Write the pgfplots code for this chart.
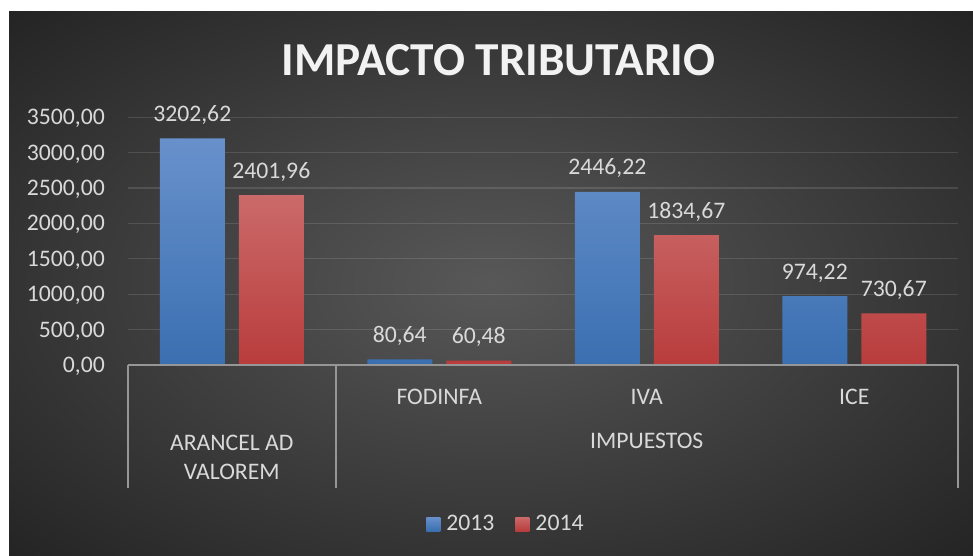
\documentclass[border=0pt]{standalone}
\usepackage{pgfplots}
\pgfplotsset{compat=1.18}
\usepackage{fontspec}
\setmainfont{Carlito}

\definecolor{bgin}{RGB}{88,88,88}
\definecolor{bgout}{RGB}{36,36,36}
\definecolor{lbl}{RGB}{217,217,217}
\definecolor{axgray}{RGB}{150,150,150}
\definecolor{bluetop}{RGB}{104,145,203}
\definecolor{bluebot}{RGB}{58,111,177}
\definecolor{redtop}{RGB}{203,106,106}
\definecolor{redbot}{RGB}{185,60,60}

% lighter centre, dark corners
\pgfdeclareradialshading{chartbg}{\pgfpoint{0bp}{0bp}}{color(0bp)=(bgin); color(35.4bp)=(bgout); color(50bp)=(bgout)}

\newcommand\lblfont{\fontsize{23.7}{28}\selectfont}
\newcommand\ttlfont{\fontsize{47.3}{54}\selectfont\bfseries}

\begin{document}
\begin{tikzpicture}[x=1pt,y=1pt]
\useasboundingbox (0,0) rectangle (973,556);
\fill[white] (0,0) rectangle (973,556);
\shade[shading=chartbg] (9,0) rectangle (973,544);

\node[font=\ttlfont, text=white!95!black] at (498.5,496) {IMPACTO TRIBUTARIO};

\begin{axis}[
    at={(128pt,191pt)}, anchor=south west,
    scale only axis,
    width=830pt, height=247.7pt,
    xmin=-0.5, xmax=3.5,
    ymin=0, ymax=3500,
    ytick={0,500,...,3500},
    xtick={1,2,3},
    xticklabels={FODINFA,IVA,ICE},
    scaled y ticks=false,
    /pgf/number format/fixed,
    /pgf/number format/fixed zerofill,
    /pgf/number format/precision=2,
    /pgf/number format/use comma,
    /pgf/number format/1000 sep={},
    /pgf/number format/assume math mode=true,
    axis line style={draw=none},
    major tick length=0pt,
    tick style={draw=none},
    ymajorgrids,
    major grid style={white, opacity=0.12, line width=1.3pt},
    yticklabel style={font=\lblfont, text=lbl, anchor=base east, inner sep=0pt, xshift=-23pt, yshift=-7.5pt},
    xticklabel style={font=\lblfont, text=lbl, anchor=base, inner sep=0pt, yshift=-39.5pt},
    every node near coord/.append style={font=\lblfont, text=lbl, anchor=base, inner sep=0pt, yshift=17pt},
    nodes near coords={\pgfmathprintnumber{\pgfplotspointmeta}},
    clip=false,
    legend style={at={(axis description cs:0.4554,-0.642)}, anchor=center,
        draw=none, fill=none, font=\lblfont, text=lbl,
        legend columns=2,
        /tikz/every even column/.append style={column sep=19pt}},
]
\addplot[ybar, bar width=65pt, bar shift=-39.5pt, draw=none,
    top color=bluetop, bottom color=bluebot,
    every node near coord/.append style={xshift=-39.5pt},
    legend image code/.code={\path[top color=bluetop, bottom color=bluebot] (0pt,-7pt) rectangle (14pt,7pt); \path (14pt,0pt) -- (18pt,0pt);}]
    coordinates {(0,3202.62) (1,80.64) (2,2446.22) (3,974.22)};
\addlegendentry{2013}
\addplot[ybar, bar width=65pt, bar shift=39.5pt, draw=none,
    top color=redtop, bottom color=redbot,
    every node near coord/.append style={xshift=39.5pt},
    legend image code/.code={\path[top color=redtop, bottom color=redbot] (0pt,-7pt) rectangle (14pt,7pt); \path (14pt,0pt) -- (18pt,0pt);}]
    coordinates {(0,2401.96) (1,60.48) (2,1834.67) (3,730.67)};
\addlegendentry{2014}

% multi-level category frame
\draw[axgray, line width=2pt] (axis cs:-0.5,0) -- (axis cs:3.5,0);
\draw[axgray, line width=2pt] (axis cs:-0.5,0) -- ([yshift=-123pt]axis cs:-0.5,0);
\draw[axgray, line width=2pt] (axis cs:0.5,0) -- ([yshift=-123pt]axis cs:0.5,0);
\draw[axgray, line width=2pt] (axis cs:3.5,0) -- ([yshift=-123pt]axis cs:3.5,0);

\node[font=\lblfont, text=lbl, anchor=base] at ([yshift=-85pt]axis cs:0,0) {ARANCEL AD};
\node[font=\lblfont, text=lbl, anchor=base] at ([yshift=-114pt]axis cs:0,0) {VALOREM};
\node[font=\lblfont, text=lbl, anchor=base] at ([yshift=-84pt]axis cs:2,0) {IMPUESTOS};
\end{axis}
\end{tikzpicture}
\end{document}
